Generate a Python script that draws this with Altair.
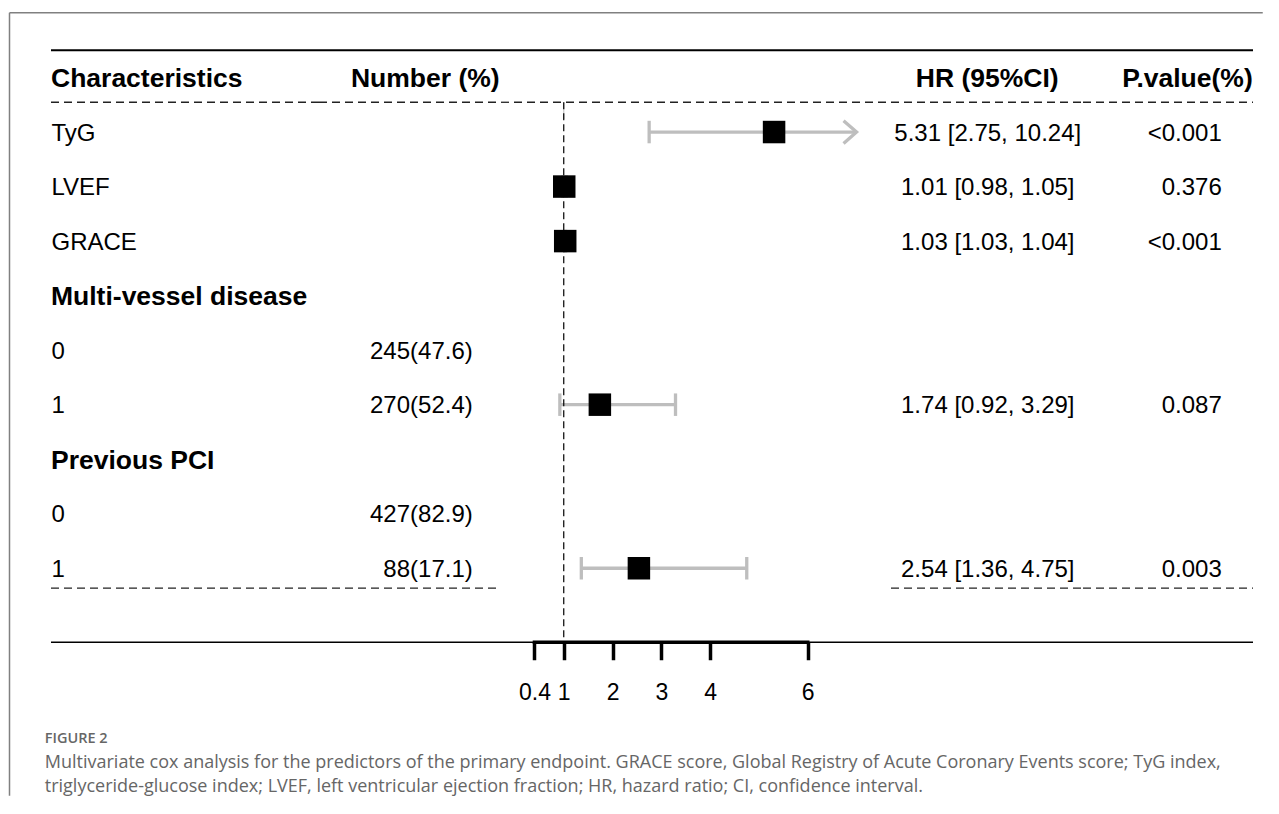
import altair as alt
import pandas as pd

# ---------------- data ----------------
row_labels = ["TyG", "LVEF", "GRACE", "Multi-vessel disease", "0", "1",
              "Previous PCI", "0", "1"]
row_is_group = [False, False, False, True, False, False, True, False, False]
numbers = ["", "", "", "", "245(47.6)", "270(52.4)", "", "427(82.9)", "88(17.1)"]
hr_est = [5.31, 1.01, 1.03, None, None, 1.74, None, None, 2.54]
hr_lo = [2.75, 0.98, 1.03, None, None, 0.92, None, None, 1.36]
hr_hi = [10.24, 1.05, 1.04, None, None, 3.29, None, None, 4.75]
p_values = ["<0.001", "0.376", "<0.001", "", "", "0.087", "", "", "0.003"]
headers = ["Characteristics", "Number (%)", "HR (95%CI)", "P.value(%)"]
axis_ticks = [0.4, 1, 2, 3, 4, 6]
x_limits = [0.4, 7]
ref_value = 1
caption_label = "FIGURE 2"
caption_lines = [
    "Multivariate cox analysis for the predictors of the primary endpoint. GRACE score, "
    "Global Registry of Acute Coronary Events score; TyG index,",
    "triglyceride-glucose index; LVEF, left ventricular ejection fraction; HR, hazard ratio; "
    "CI, confidence interval.",
]

df = pd.DataFrame({
    "row": list(range(1, len(row_labels) + 1)),
    "label": row_labels,
    "group": row_is_group,
    "number": numbers,
    "hr": hr_est,
    "lo": hr_lo,
    "hi": hr_hi,
    "p": p_values,
})
fdf = df.dropna(subset=["hr"]).copy()
fdf["ci_text"] = [f"{h:.2f} [{l:.2f}, {u:.2f}]" for h, l, u in zip(fdf.hr, fdf.lo, fdf.hi)]
fdf["hi_draw"] = fdf["hi"].clip(upper=x_limits[1])
fdf["clipped"] = fdf["hi"] > x_limits[1]

caps = pd.concat([
    pd.DataFrame({"row": fdf.row, "x": fdf.lo}),
    pd.DataFrame({"row": fdf.row[~fdf.clipped], "x": fdf.hi[~fdf.clipped]}),
])
arrows = pd.DataFrame({"row": fdf.row[fdf.clipped], "x": fdf.hi_draw[fdf.clipped]})

# ---------------- layout ----------------
FONT = "Liberation Sans"
H = 592
W_LEFT, W_FOREST, W_RIGHT = 450, 390, 362
Y_DOMAIN = [-0.5, 10.357]
HEADER_RULE_Y = 0.454
FOOT_RULE_Y = 9.366
PX_PER_UNIT = 48.8
REF_PX = 62.75
X_DOMAIN = [ref_value - REF_PX / PX_PER_UNIT,
            ref_value + (W_FOREST - REF_PX) / PX_PER_UNIT]
CI_COLOR = "#bebebe"
DASH = [8, 5]

yscale = alt.Scale(domain=Y_DOMAIN, reverse=True, nice=False, zero=False)
xscale = alt.Scale(domain=X_DOMAIN, nice=False, zero=False)
xaxis = alt.Axis(values=axis_ticks, format="~g", title=None, domain=False, grid=False,
                 tickSize=17.5, tickWidth=3.5, tickColor="black",
                 labelFont=FONT, labelFontSize=23, labelColor="black",
                 labelPadding=22, labelOverlap=False, labelFlush=False, labelBound=False)


def Y(field):
    return alt.Y(f"{field}:Q", scale=yscale, axis=None)


def X(field):
    return alt.X(f"{field}:Q", scale=xscale, axis=xaxis)


def hrule(y, x0, x1, dashed=False, width=1.3, color="black"):
    kw = dict(strokeWidth=width, color=color)
    if dashed:
        kw["strokeDash"] = DASH
    return alt.Chart(pd.DataFrame({"y": [y]})).mark_rule(**kw).encode(
        x=alt.value(x0), x2=alt.value(x1), y=Y("y"))


def table_lines(width, split, foot):
    layers = [hrule(Y_DOMAIN[0], 0, width, width=1.8),
              hrule(Y_DOMAIN[1], 0, width, width=1.7)]
    cuts = [0] + ([split] if split else []) + [width]
    ys = [HEADER_RULE_Y] + ([FOOT_RULE_Y] if foot else [])
    for yy in ys:
        for a, b in zip(cuts[:-1], cuts[1:]):
            layers.append(hrule(yy, a, b, dashed=True, width=1.3, color="#222"))
    return layers


def text_layer(data, field, x, align, size, bold=False):
    return alt.Chart(data).mark_text(
        align=align, baseline="middle", dy=1.5, font=FONT, fontSize=size,
        fontWeight="bold" if bold else "normal", color="black",
    ).encode(x=alt.value(x), y=Y("row"), text=f"{field}:N")


def header_df(i):
    return pd.DataFrame({"row": [0], "t": [headers[i]]})


# ---------------- left table ----------------
left_layers = table_lines(W_LEFT, 268, True)
left_layers += [
    text_layer(header_df(0), "t", 0, "left", 26.5, True),
    text_layer(header_df(1), "t", 374.25, "center", 26.5, True),
    text_layer(df[df.group], "label", 0, "left", 26.5, True),
    text_layer(df[~df.group], "label", 0.5, "left", 24),
    text_layer(df[df.number != ""], "number", 421.75, "right", 24),
]
# figure frame and caption
one = pd.DataFrame({"k": [0]})
left_layers += [
    alt.Chart(one).mark_rule(color="#808080", strokeWidth=1.5).encode(
        x=alt.value(-41.5), y=alt.value(-37.5), y2=alt.value(745.5)),
    alt.Chart(one).mark_rule(color="#808080", strokeWidth=1.5).encode(
        x=alt.value(-41.5), x2=alt.value(1211.75), y=alt.value(-37.5)),
    alt.Chart(pd.DataFrame({"t": [caption_label]})).mark_text(
        align="left", baseline="alphabetic", font="Open Sans", fontSize=14.5,
        fontWeight=600, color="#666666").encode(
        x=alt.value(-6.25), y=alt.value(692.5), text="t:N"),
    alt.Chart(one).mark_text(
        text=caption_lines, lineHeight=24, align="left", baseline="alphabetic",
        font="Open Sans", fontSize=18, color="#666666").encode(
        x=alt.value(-6.25), y=alt.value(718)),
]
left = alt.layer(*left_layers).properties(width=W_LEFT, height=H)

# ---------------- forest panel ----------------
forest_layers = table_lines(W_FOREST, None, False)
forest_layers += [
    alt.Chart(pd.DataFrame({"x": [ref_value], "y0": [HEADER_RULE_Y], "y1": [0.76]}))
    .mark_rule(color="#c8c8c8", strokeWidth=1.2)
    .encode(x=X("x"), y=Y("y0"), y2="y1:Q"),
    alt.Chart(fdf).mark_rule(color=CI_COLOR, strokeWidth=3.3)
    .encode(x=X("lo"), x2="hi_draw:Q", y=Y("row")),
    alt.Chart(caps).mark_tick(orient="vertical", color=CI_COLOR, thickness=3.3,
                              size=22.5, opacity=1)
    .encode(x=X("x"), y=Y("row")),
    alt.Chart(arrows).mark_point(shape="M -2 -1.75 L 0 0 L -2 1.75", filled=False,
                                 stroke=CI_COLOR, strokeWidth=3.3, size=169, opacity=1)
    .encode(x=X("x"), y=Y("row")),
    alt.Chart(pd.DataFrame({"x": [ref_value], "y0": [HEADER_RULE_Y], "y1": [Y_DOMAIN[1]]}))
    .mark_rule(color="black", strokeWidth=1.2, strokeDash=[7, 4])
    .encode(x=X("x"), y=Y("y0"), y2="y1:Q"),
    alt.Chart(pd.DataFrame({"a": [min(axis_ticks)], "b": [max(axis_ticks)]}))
    .mark_rule(color="black", strokeWidth=3.5, strokeCap="square")
    .encode(x=X("a"), x2="b:Q", y=alt.value(H)),
    alt.Chart(fdf).mark_square(size=506, color="black", opacity=1)
    .encode(x=X("hr"), y=Y("row")),
]
forest = alt.layer(*forest_layers).properties(width=W_FOREST, height=H)

# ---------------- right table ----------------
right_layers = table_lines(W_RIGHT, 192, True)
right_layers += [
    text_layer(header_df(2), "t", 96.25, "center", 26.5, True),
    text_layer(header_df(3), "t", W_RIGHT - 0.25, "right", 26.5, True),
    text_layer(fdf, "ci_text", 96.75, "center", 24),
    text_layer(df[df.p != ""], "p", 330.75, "right", 24),
]
right = alt.layer(*right_layers).properties(width=W_RIGHT, height=H)

chart = alt.hconcat(left, forest, right, spacing=0, bounds="flush").properties(
    padding={"left": 0, "top": 3.25, "right": 0, "bottom": 0}
).configure_view(stroke=None)

chart.save("out.html", embed_options={"renderer": "svg", "actions": False})
